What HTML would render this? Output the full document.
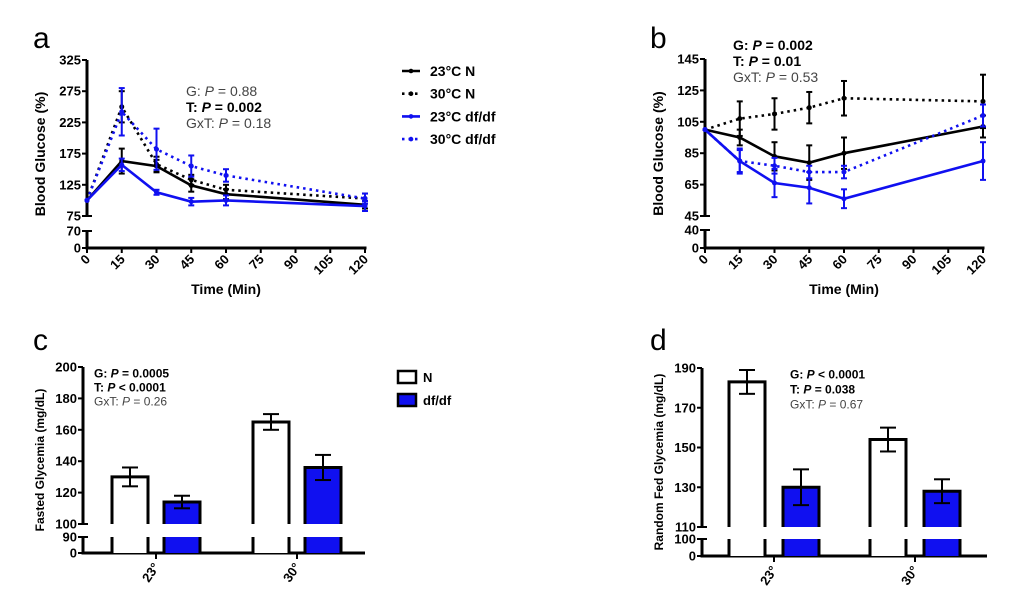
<!DOCTYPE html>
<html><head><meta charset="utf-8">
<style>
body{margin:0;background:#fff;width:1020px;height:610px;overflow:hidden;font-family:"Liberation Sans",Arial,sans-serif}
svg{display:block}
text{font-family:"Liberation Sans",Arial,sans-serif}
</style></head>
<body>
<svg id="fig" width="1020" height="610" viewBox="0 0 1020 610" xmlns="http://www.w3.org/2000/svg">
<g id="gA"></g>
<g id="gB"></g>
<g id="gC"></g>
<g id="gD"></g>
</svg>
<script>
// ---------- data ----------
const timePoints = [0, 15, 30, 45, 60, 120];
const xTickLabels = [0, 15, 30, 45, 60, 75, 90, 105, 120];
const seriesNames = ["23°C N", "30°C N", "23°C df/df", "30°C df/df"];
// panel a (GTT)
const a23N = [100, 163, 155, 124, 110, 93];
const a23Nerr = [0, 20, 10, 10, 8, 6];
const a30N = [100, 250, 158, 133, 117, 103];
const a30Nerr = [0, 25, 12, 8, 8, 8];
const a23D = [100, 157, 113, 98, 100, 91];
const a23Derr = [0, 10, 4, 6, 8, 8];
const a30D = [100, 242, 182, 155, 140, 103];
const a30Derr = [0, 38, 33, 17, 10, 8];
const aUpperTicks = [75, 125, 175, 225, 275, 325];
const aLowerTicks = [0, 70];
// panel b (ITT)
const b23N = [100, 95, 83, 79, 85, 102];
const b23Nerr = [0, 5, 9, 11, 10, 7];
const b30N = [100, 107, 110, 114, 120, 118];
const b30Nerr = [0, 11, 10, 10, 11, 17];
const b23D = [100, 80, 66, 63, 56, 80];
const b23Derr = [0, 7, 9, 10, 6, 12];
const b30D = [100, 80, 77, 73, 73, 109];
const b30Derr = [0, 8, 5, 4, 4, 7];
const bUpperTicks = [45, 65, 85, 105, 125, 145];
const bLowerTicks = [0, 40];
// panel c (fasted)
const groups = ["23°", "30°"];
const cN = [130, 165];
const cNerr = [6, 5];
const cD = [114, 136];
const cDerr = [4, 8];
const cUpperTicks = [100, 120, 140, 160, 180, 200];
const cLowerTicks = [0, 90];
// panel d (random fed)
const dN = [183, 154];
const dNerr = [6, 6];
const dD = [130, 128];
const dDerr = [9, 6];
const dUpperTicks = [110, 130, 150, 170, 190];
const dLowerTicks = [0, 100];

const NS = "http://www.w3.org/2000/svg";
const BLUE = "#1010f0";
function mk(parent, tag, attrs, txt) {
  const e = document.createElementNS(NS, tag);
  for (const k in attrs) e.setAttribute(k, attrs[k]);
  if (txt !== undefined) e.textContent = txt;
  parent.appendChild(e);
  return e;
}
function brokenY(cfg) {
  // returns value->pixel
  return v => {
    if (v >= cfg.upMin) return cfg.upBot - (v - cfg.upMin) / (cfg.upMax - cfg.upMin) * (cfg.upBot - cfg.upTop);
    return cfg.loBot - (v - cfg.loMin) / (cfg.loMax - cfg.loMin) * (cfg.loBot - cfg.loTop);
  };
}
function drawAxisY(g, cfg, y, upTicks, loTicks, title, titleX, titleSize) {
  const ax = mk(g, "g", {});
  
  
  mk(ax, "line", {x1: cfg.x0, x2: cfg.x0, y1: cfg.upTop, y2: cfg.upBot, stroke: "#000", "stroke-width": 3});
  mk(ax, "line", {x1: cfg.x0, x2: cfg.x0, y1: cfg.loTop, y2: cfg.loBot + 1.5, stroke: "#000", "stroke-width": 3});
  const all = upTicks.concat(loTicks);
  all.forEach(t => {
    const yy = y(t);
    const wide = (t === cfg.upMin || t === cfg.loMax);
    mk(ax, "line", {x1: cfg.x0 - 5, x2: cfg.x0 + (wide ? 5 : 0), y1: yy, y2: yy, stroke: "#000", "stroke-width": 2});
    const tl = mk(ax, "text", {x: cfg.x0 - 6, y: yy + 4.5, "text-anchor": "end", "font-size": 13, "font-weight": "bold"}, String(t));
    
    
  });
  const cy = (cfg.upTop + cfg.loBot) / 2;
  const tt = mk(ax, "text", {x: titleX, y: cy, "text-anchor": "middle", "font-size": titleSize, "font-weight": "bold", transform: `rotate(-90 ${titleX} ${cy})`}, title);
  
  
}
function stats(g, x, ys, lines, size) {
  const s = mk(g, "g", {});
  
  
  lines.forEach((L, i) => {
    const t = mk(s, "text", {x: x, y: ys[i] + size * 0.36, "font-size": size, "font-weight": L.bold ? "bold" : "normal", fill: L.bold ? "#000" : "#444"});
    mk(t, "tspan", {}, L.pre);
    mk(t, "tspan", {"font-style": "italic"}, "P");
    mk(t, "tspan", {}, L.post);
  });
}
function panelLabel(g, x, y, ch) {
  const t = mk(g, "text", {x: x, y: y, "font-size": 30}, ch);
  
  
}

// ---------- line panels ----------
function linePanel(g, cfg, series, upTicks, loTicks) {
  const y = brokenY(cfg);
  const x = v => cfg.x0 + v / 120 * (cfg.x1 - cfg.x0);
  drawAxisY(g, cfg, y, upTicks, loTicks, "Blood Glucose (%)", cfg.x0 - 42, 14);
  const xa = mk(g, "g", {});
  
  
  mk(xa, "line", {x1: cfg.x0 - 1.5, x2: cfg.x1 + 1.5, y1: cfg.loBot, y2: cfg.loBot, stroke: "#000", "stroke-width": 3});
  xTickLabels.forEach(t => {
    const xx = x(t);
    mk(xa, "line", {x1: xx, x2: xx, y1: cfg.loBot, y2: cfg.loBot + 5, stroke: "#000", "stroke-width": 2});
    const lx = xx + 4, ly = cfg.loBot + 12;
    const tl = mk(xa, "text", {x: lx, y: ly, "text-anchor": "end", "font-size": 13, "font-weight": "bold", transform: `rotate(-45 ${lx} ${ly})`}, String(t));
    
    
  });
  const xt = mk(xa, "text", {x: (cfg.x0 + cfg.x1) / 2, y: cfg.loBot + 46, "text-anchor": "middle", "font-size": 14, "font-weight": "bold"}, "Time (Min)");
  
  
  series.forEach((s, si) => {
    const sg = mk(g, "g", {});
    
    
    const pts = timePoints.map((t, i) => x(t) + "," + y(s.v[i])).join(" ");
    const ln = mk(sg, "polyline", {points: pts, fill: "none", stroke: s.c, "stroke-width": 2.6, "stroke-dasharray": s.dash ? "2.5 4" : "none"});
    
    
    timePoints.forEach((t, i) => {
      const xx = x(t);
      if (s.e[i] > 0) {
        const y1 = y(s.v[i] + s.e[i]), y2 = y(s.v[i] - s.e[i]);
        mk(sg, "line", {x1: xx, x2: xx, y1: y1, y2: y2, stroke: s.c, "stroke-width": 2});
        mk(sg, "line", {x1: xx - 3, x2: xx + 3, y1: y1, y2: y1, stroke: s.c, "stroke-width": 2});
        mk(sg, "line", {x1: xx - 3, x2: xx + 3, y1: y2, y2: y2, stroke: s.c, "stroke-width": 2});
      }
      const p = mk(sg, "circle", {cx: xx, cy: y(s.v[i]), r: 2.5, fill: s.c});
      
      
    });
  });
}

const gA = document.getElementById("gA");
panelLabel(gA, 33, 48, "a");
linePanel(gA, {x0: 87, x1: 365, upTop: 60, upBot: 216, upMin: 75, upMax: 325, loTop: 231, loBot: 248, loMin: 0, loMax: 70}, [
  {key: "23c-n", v: a23N, e: a23Nerr, c: "#000", dash: false},
  {key: "30c-n", v: a30N, e: a30Nerr, c: "#000", dash: true},
  {key: "23c-dfdf", v: a23D, e: a23Derr, c: BLUE, dash: false},
  {key: "30c-dfdf", v: a30D, e: a30Derr, c: BLUE, dash: true}
], aUpperTicks, aLowerTicks);
stats(gA, 186, [91, 107, 123], [{pre: "G: ", post: " = 0.88"}, {pre: "T: ", post: " = 0.002", bold: true}, {pre: "GxT: ", post: " = 0.18"}], 14);
// legend a
const legA = mk(gA, "g", {});


const legStyles = [["#000", false], ["#000", true], [BLUE, false], [BLUE, true]];
seriesNames.forEach((n, i) => {
  const yy = 71 + i * 22.7;
  const e = mk(legA, "g", {});
  
  
  mk(e, "line", {x1: 402, x2: 420, y1: yy, y2: yy, stroke: legStyles[i][0], "stroke-width": 2.6, "stroke-dasharray": legStyles[i][1] ? "2.5 4" : "none"});
  mk(e, "circle", {cx: 411, cy: yy, r: 2.3, fill: legStyles[i][0]});
  mk(e, "text", {x: 430, y: yy + 5, "font-size": 14, "font-weight": "bold"}, n);
});

const gB = document.getElementById("gB");
panelLabel(gB, 650, 48, "b");
linePanel(gB, {x0: 705, x1: 983, upTop: 59, upBot: 216, upMin: 45, upMax: 145, loTop: 230, loBot: 248, loMin: 0, loMax: 40}, [
  {key: "23c-n", v: b23N, e: b23Nerr, c: "#000", dash: false},
  {key: "30c-n", v: b30N, e: b30Nerr, c: "#000", dash: true},
  {key: "23c-dfdf", v: b23D, e: b23Derr, c: BLUE, dash: false},
  {key: "30c-dfdf", v: b30D, e: b30Derr, c: BLUE, dash: true}
], bUpperTicks, bLowerTicks);
stats(gB, 733, [45, 61, 77], [{pre: "G: ", post: " = 0.002", bold: true}, {pre: "T: ", post: " = 0.01", bold: true}, {pre: "GxT: ", post: " = 0.53"}], 14);

// ---------- bar panels ----------
function barPanel(g, cfg, nv, ne, dv, de, upTicks, loTicks, title, titleX) {
  const y = brokenY(cfg);
  drawAxisY(g, cfg, y, upTicks, loTicks, title, titleX, 12);
  const xa = mk(g, "g", {});
  
  
  mk(xa, "line", {x1: cfg.x0 - 1.5, x2: cfg.x1, y1: cfg.loBot, y2: cfg.loBot, stroke: "#000", "stroke-width": 3});
  groups.forEach((gname, gi) => {
    const cx = cfg.gx[gi];
    mk(xa, "line", {x1: cx, x2: cx, y1: cfg.loBot, y2: cfg.loBot + 6, stroke: "#000", "stroke-width": 2});
    const lx = cx + 4, ly = cfg.loBot + 14;
    const tl = mk(xa, "text", {x: lx, y: ly, "text-anchor": "end", "font-size": 13, "font-weight": "bold", transform: `rotate(-55 ${lx} ${ly})`}, gname);
    
    
    [[nv, ne, "#fff", -1, "n"], [dv, de, BLUE, 1, "dfdf"]].forEach(([vals, errs, fill, side, key]) => {
      const bx = cx + side * cfg.off - cfg.bw / 2;
      const bg = mk(g, "g", {});
      
      
      const top = y(vals[gi]);
      // upper part
      mk(bg, "rect", {x: bx, y: top, width: cfg.bw, height: cfg.upBot - top, fill: fill, stroke: "none"});
      mk(bg, "path", {d: `M${bx},${cfg.upBot} V${top} H${bx + cfg.bw} V${cfg.upBot}`, fill: "none", stroke: "#000", "stroke-width": 3});
      // lower part
      mk(bg, "rect", {x: bx, y: cfg.loTop, width: cfg.bw, height: cfg.loBot - cfg.loTop, fill: fill, stroke: "none"});
      mk(bg, "path", {d: `M${bx},${cfg.loTop} V${cfg.loBot} M${bx + cfg.bw},${cfg.loTop} V${cfg.loBot}`, fill: "none", stroke: "#000", "stroke-width": 3});
      const ex = bx + cfg.bw / 2, y1 = y(vals[gi] + errs[gi]), y2 = y(vals[gi] - errs[gi]);
      mk(bg, "line", {x1: ex, x2: ex, y1: y1, y2: y2, stroke: "#000", "stroke-width": 2});
      mk(bg, "line", {x1: ex - 8, x2: ex + 8, y1: y1, y2: y1, stroke: "#000", "stroke-width": 2});
      mk(bg, "line", {x1: ex - 8, x2: ex + 8, y1: y2, y2: y2, stroke: "#000", "stroke-width": 2});
    });
  });
}

const gC = document.getElementById("gC");
panelLabel(gC, 33, 350, "c");
barPanel(gC, {x0: 83, x1: 365, upTop: 367, upBot: 524, upMin: 100, upMax: 200, loTop: 537, loBot: 553, loMin: 0, loMax: 90, gx: [156, 297], off: 26, bw: 36}, cN, cNerr, cD, cDerr, cUpperTicks, cLowerTicks, "Fasted Glycemia (mg/dL)", 44);
stats(gC, 94, [373, 387, 401], [{pre: "G: ", post: " = 0.0005", bold: true}, {pre: "T: ", post: " < 0.0001", bold: true}, {pre: "GxT: ", post: " = 0.26"}], 12);
const legC = mk(gC, "g", {});


[["N", "#fff", 377], ["df/df", BLUE, 400]].forEach(([n, f, yy]) => {
  const e = mk(legC, "g", {});
  
  
  mk(e, "rect", {x: 398, y: yy - 6, width: 18, height: 12, fill: f, stroke: "#000", "stroke-width": 2.5});
  mk(e, "text", {x: 423, y: yy + 5, "font-size": 13, "font-weight": "bold"}, n);
});

const gD = document.getElementById("gD");
panelLabel(gD, 650, 350, "d");
barPanel(gD, {x0: 702, x1: 987, upTop: 368, upBot: 527, upMin: 110, upMax: 190, loTop: 539, loBot: 556, loMin: 0, loMax: 100, gx: [774, 915], off: 27, bw: 36}, dN, dNerr, dD, dDerr, dUpperTicks, dLowerTicks, "Random Fed Glycemia (mg/dL)", 663);
stats(gD, 790, [374, 389, 404], [{pre: "G: ", post: " < 0.0001", bold: true}, {pre: "T: ", post: " = 0.038", bold: true}, {pre: "GxT: ", post: " = 0.67"}], 12);
</script>
</body></html>
